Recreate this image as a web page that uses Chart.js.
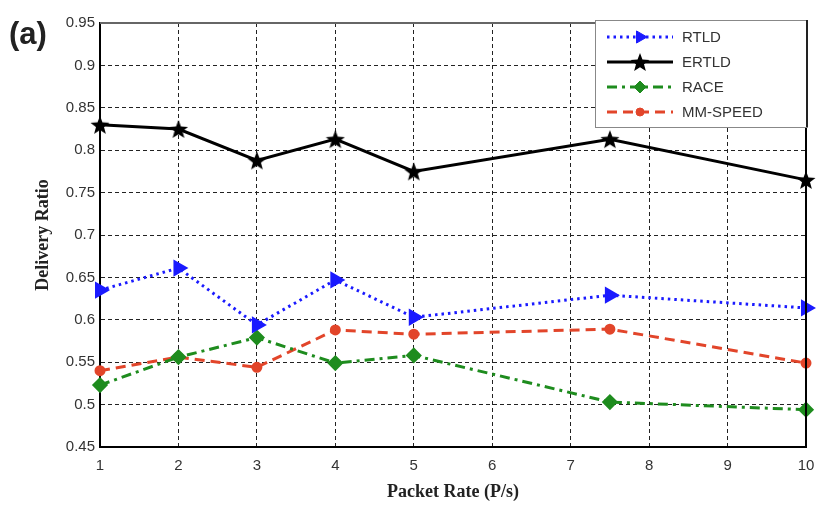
<!DOCTYPE html>
<html>
<head>
<meta charset="utf-8">
<script src="https://cdn.jsdelivr.net/npm/chart.js@4.4.1/dist/chart.umd.min.js"></script>
<style>
    html, body { margin: 0; padding: 0; background: #fff; }
    #wrap { width: 819px; height: 507px; }
</style>
</head>
<body>
<div id="wrap"><canvas id="deliveryChart" width="819" height="507"></canvas></div>
<script>
const packetRate = [1, 2, 3, 4, 5, 7.5, 10]
const rtld = [0.635, 0.661, 0.594, 0.647, 0.603, 0.629, 0.614]
const ertld = [0.830, 0.825, 0.788, 0.813, 0.775, 0.813, 0.765]
const race = [0.523, 0.556, 0.579, 0.549, 0.558, 0.503, 0.494]
const mmSpeed = [0.540, 0.556, 0.544, 0.588, 0.583, 0.589, 0.549]

const xTicks = [1, 2, 3, 4, 5, 6, 7, 8, 9, 10]
const yTicks = [0.45, 0.5, 0.55, 0.6, 0.65, 0.7, 0.75, 0.8, 0.85, 0.9, 0.95]

const tickFont = { family: 'Liberation Sans, Arial, sans-serif', size: 15 }
const titleFont = { family: 'Liberation Serif, Times New Roman, serif', size: 18, weight: 'bold' }

// filled five-point star, Chart.js only has the open asterisk one
function starMarker(size, color) {
    const c = document.createElement('canvas')
    c.width = size
    c.height = size
    const g = c.getContext('2d')
    const cx = size / 2, cy = size / 2 + 1
    const outer = size / 2, inner = outer * 0.42
    g.beginPath()
    for (let i = 0; i < 10; i++) {
        const r = i % 2 === 0 ? outer : inner
        const a = -Math.PI / 2 + i * Math.PI / 5
        const px = cx + r * Math.cos(a), py = cy + r * Math.sin(a)
        if (i === 0) g.moveTo(px, py)
        else g.lineTo(px, py)
    }
    g.closePath()
    g.fillStyle = color
    g.fill()
    return c
}

function points(values) {
    return packetRate.map((x, i) => ({ x: x, y: values[i] }))
}

const datasets = [{
    label: 'RTLD',
    data: points(rtld),
    borderColor: '#1a1aff',
    backgroundColor: '#1a1aff',
    borderWidth: 3,
    borderDash: [2.5, 4],
    pointStyle: 'triangle',
    pointRotation: 90,
    pointRadius: 7
}, {
    label: 'ERTLD',
    data: points(ertld),
    borderColor: '#000',
    backgroundColor: '#000',
    borderWidth: 3,
    borderDash: [],
    pointStyle: starMarker(20, '#000'),
    pointRadius: 10
}, {
    label: 'RACE',
    data: points(race),
    borderColor: '#1e8c1e',
    backgroundColor: '#1e8c1e',
    borderWidth: 3,
    borderDash: [10, 5, 3, 5],
    pointStyle: 'rectRot',
    pointRadius: 6
}, {
    label: 'MM-SPEED',
    data: points(mmSpeed),
    borderColor: '#e2452a',
    backgroundColor: '#e2452a',
    borderWidth: 3,
    borderDash: [10, 6],
    pointStyle: 'circle',
    pointRadius: 4
}]
datasets.forEach(ds => { ds.clip = false })

// "(a)", top/right frame and the boxed legend with line samples
const decorations = {
    id: 'decorations',
    afterDatasetsDraw(chart) {
        const ctx = chart.ctx
        const area = chart.chartArea
        ctx.save()
        ctx.setLineDash([])
        ctx.strokeStyle = '#666'
        ctx.lineWidth = 2
        ctx.beginPath()
        ctx.moveTo(area.left, area.top)
        ctx.lineTo(area.right, area.top)
        ctx.stroke()
        ctx.strokeStyle = '#000'
        ctx.beginPath()
        ctx.moveTo(area.right, area.top)
        ctx.lineTo(area.right, area.bottom)
        ctx.stroke()

        ctx.fillStyle = '#222'
        ctx.font = 'bold 31px Liberation Sans, Arial, sans-serif'
        ctx.textBaseline = 'alphabetic'
        ctx.fillText('(a)', 9, 44)

        const box = { x: 595, y: 20, w: 212, h: 107 }
        ctx.fillStyle = '#fff'
        ctx.fillRect(box.x, box.y, box.w, box.h)
        ctx.lineWidth = 1
        ctx.strokeStyle = '#888'
        ctx.strokeRect(box.x + 0.5, box.y + 0.5, box.w, box.h)
        ctx.strokeStyle = '#222'
        ctx.lineWidth = 2
        ctx.beginPath()
        ctx.moveTo(box.x + box.w, box.y)
        ctx.lineTo(box.x + box.w, box.y + box.h)
        ctx.stroke()

        chart.data.datasets.forEach((ds, i) => {
            const y = 37 + i * 25
            ctx.strokeStyle = ds.borderColor
            ctx.lineWidth = ds.borderWidth
            ctx.setLineDash(ds.borderDash)
            ctx.beginPath()
            ctx.moveTo(607, y)
            ctx.lineTo(673, y)
            ctx.stroke()
            ctx.setLineDash([])
            ctx.fillStyle = ds.backgroundColor
            ctx.strokeStyle = ds.borderColor
            ctx.lineWidth = 1
            Chart.helpers.drawPoint(ctx, {
                pointStyle: ds.pointStyle,
                rotation: ds.pointRotation || 0,
                radius: ds.pointRadius,
                borderWidth: 1
            }, 640, y)
            ctx.fillStyle = '#333'
            ctx.font = '15px Liberation Sans, Arial, sans-serif'
            ctx.textBaseline = 'middle'
            ctx.fillText(ds.label, 682, y + 1)
        })
        ctx.restore()
    }
}

const chart = new Chart(document.getElementById('deliveryChart'), {
    type: 'line',
    data: { datasets: datasets },
    plugins: [decorations],
    options: {
        responsive: false,
        animation: false,
        layout: { padding: { top: 23, right: 8, left: 0, bottom: 0 } },
        plugins: {
            legend: { display: false },
            tooltip: { enabled: false }
        },
        scales: {
            x: {
                type: 'linear',
                min: 1,
                max: 10,
                afterBuildTicks: s => { s.ticks = xTicks.map(v => ({ value: v })) },
                afterFit: s => {
                    s.height = 60
                    s.paddingLeft = 0
                    s.paddingRight = 0
                },
                ticks: { color: '#333', font: tickFont, padding: 10 },
                grid: { color: '#222', lineWidth: 1, tickLength: 0 },
                border: { display: true, color: '#000', width: 2, dash: [4, 3] },
                title: {
                    display: true,
                    text: 'Packet Rate (P/s)',
                    color: '#222',
                    font: titleFont,
                    padding: { top: 0, bottom: 4 }
                }
            },
            y: {
                min: 0.45,
                max: 0.95,
                afterBuildTicks: s => { s.ticks = yTicks.map(v => ({ value: v })) },
                afterFit: s => { s.width = 100 },
                ticks: {
                    color: '#333',
                    font: tickFont,
                    padding: 5,
                    callback: v => String(Number(v.toFixed(2)))
                },
                grid: { color: '#222', lineWidth: 1, tickLength: 0 },
                border: { display: true, color: '#000', width: 2, dash: [4, 3] },
                title: {
                    display: true,
                    text: 'Delivery Ratio',
                    color: '#222',
                    font: titleFont,
                    padding: { top: 33, bottom: 0 }
                }
            }
        }
    }
})
</script>
</body>
</html>
